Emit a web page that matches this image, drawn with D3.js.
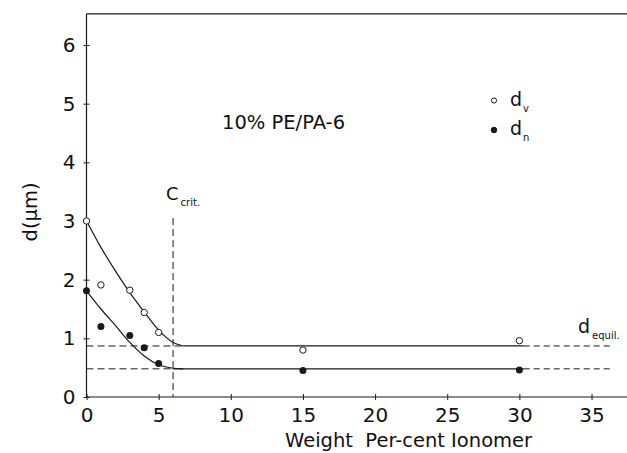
<html>
    <head>
        <script src="https://d3js.org/d3.v7.min.js"></script>
        <title>Droplet size vs ionomer</title>
        <style>
            body { margin: 0; background: #fff; }
            text { font-family: "DejaVu Sans", sans-serif; fill: #111; }
        </style>
    </head>
    <body>
        <div class="viz"></div>
        <script type="text/javascript">
            // measured points
            var wtPct = [0, 1, 3, 4, 5, 15, 30];
            var dv = [3.0, 1.91, 1.82, 1.44, 1.10, 0.80, 0.96];
            var dn = [1.81, 1.20, 1.05, 0.84, 0.57, 0.45, 0.46];

            // hand drawn fit curves
            var fitX = [0, 1, 2, 3, 4, 5, 6, 6.7];
            var fitV = [3.0, 2.55, 2.15, 1.78, 1.45, 1.14, 0.93, 0.87];
            var fitN = [1.81, 1.5, 1.22, 0.93, 0.7, 0.55, 0.49, 0.48];
            var equilV = 0.87;
            var equilN = 0.48;
            var cCrit = 6;

            var xTicks = [0, 5, 10, 15, 20, 25, 30, 35];
            var yTicks = [0, 1, 2, 3, 4, 5, 6];

            var vizWidth = 627;
            var vizHeight = 453;

            var x = d3.scaleLinear().domain([0, 37.5]).range([86.5, 627.6]);
            var y = d3.scaleLinear().domain([0, 6]).range([397, 45]);

            var svg = d3.select(".viz")
                        .append("svg")
                        .attr("width", vizWidth)
                        .attr("height", vizHeight);

            var ink = "#1a1a1a";

            // frame: top line
            svg.append("line")
                .attr("x1", x(0)).attr("x2", 627)
                .attr("y1", y(6.53)).attr("y2", y(6.53))
                .attr("stroke", ink).attr("stroke-width", 1.2);

            // axes
            var xAxis = d3.axisBottom(x).tickValues(xTicks).tickSize(0).tickPadding(11).tickFormat(d3.format("d"));
            var yAxis = d3.axisLeft(y).tickValues(yTicks).tickSize(0).tickPadding(11).tickFormat(d3.format("d"));

            var gx = svg.append("g").attr("transform", "translate(0," + y(0) + ")").call(xAxis);
            var gy = svg.append("g").attr("transform", "translate(" + x(0) + ",0)").call(yAxis);
            [gx, gy].forEach(function(g){
                g.select(".domain").attr("stroke", ink).attr("stroke-width", 1.2);
                g.selectAll("text").attr("font-size", 20).attr("fill", ink)
                    .attr("font-family", "DejaVu Sans, sans-serif");
            });
            gx.select(".domain").attr("d", "M" + x(0) + ",0H" + 627);
            gy.select(".domain").attr("d", "M0," + y(0) + "V" + y(6.53));

            // cross ticks
            gx.selectAll(".tick").append("line").attr("y1", -3).attr("y2", 3).attr("stroke", ink);
            gy.selectAll(".tick").append("line").attr("x1", -3).attr("x2", 3).attr("stroke", ink);

            // axis titles
            svg.append("text")
                .attr("transform", "translate(" + 37 + "," + 212 + ") rotate(-90)")
                .attr("text-anchor", "middle")
                .attr("font-size", 19.5)
                .text("d(\u03bcm)");

            svg.append("text")
                .attr("x", 285).attr("y", 447)
                .attr("font-size", 19.5)
                .attr("xml:space", "preserve")
                .text("Weight  Per-cent Ionomer");

            var line = d3.line()
                .x(function(d){ return x(d[0]); })
                .y(function(d){ return y(d[1]); })
                .curve(d3.curveMonotoneX);

            // fit curves
            [fitV, fitN].forEach(function(arr){
                svg.append("path")
                    .attr("d", line(fitX.map(function(v, i){ return [v, arr[i]]; })))
                    .attr("fill", "none").attr("stroke", ink).attr("stroke-width", 1.2);
            });

            // equilibrium levels
            var levels = [[equilV, fitX[fitX.length - 1]], [equilN, 6.0]];
            levels.forEach(function(l){
                svg.append("line")
                    .attr("x1", x(0)).attr("x2", x(l[1]))
                    .attr("y1", y(l[0])).attr("y2", y(l[0]))
                    .attr("stroke", ink).attr("stroke-dasharray", "7,4");
                svg.append("line")
                    .attr("x1", x(l[1])).attr("x2", x(30.3))
                    .attr("y1", y(l[0])).attr("y2", y(l[0]))
                    .attr("stroke", ink).attr("stroke-width", 1.2);
                svg.append("line")
                    .attr("x1", x(30.3)).attr("x2", x(36.3))
                    .attr("y1", y(l[0])).attr("y2", y(l[0]))
                    .attr("stroke", ink).attr("stroke-dasharray", "6,4");
            });

            // critical concentration
            svg.append("line")
                .attr("x1", x(cCrit)).attr("x2", x(cCrit))
                .attr("y1", y(3.05)).attr("y2", y(0))
                .attr("stroke", ink).attr("stroke-dasharray", "7,4");

            var cLab = svg.append("text").attr("x", 166).attr("y", 200).attr("font-size", 18);
            cLab.append("tspan").text("C");
            cLab.append("tspan").attr("font-size", 10).attr("dy", 6).attr("dx", 2).text("crit.");

            var eLab = svg.append("text").attr("x", 578).attr("y", 333).attr("font-size", 19);
            eLab.append("tspan").text("d");
            eLab.append("tspan").attr("font-size", 10).attr("dy", 6).attr("dx", 2).text("equil.");

            svg.append("text")
                .attr("x", 222).attr("y", 129)
                .attr("font-size", 19.5)
                .text("10% PE/PA-6");

            // points
            svg.selectAll("circle.dv")
                .data(wtPct).enter().append("circle")
                .attr("class", "dv")
                .attr("cx", function(d){ return x(d); })
                .attr("cy", function(d, i){ return y(dv[i]); })
                .attr("r", 3.2)
                .attr("fill", "#fff").attr("stroke", ink).attr("stroke-width", 1);

            svg.selectAll("circle.dn")
                .data(wtPct).enter().append("circle")
                .attr("class", "dn")
                .attr("cx", function(d){ return x(d); })
                .attr("cy", function(d, i){ return y(dn[i]); })
                .attr("r", 3.5)
                .attr("fill", ink);

            // legend
            var legend = [["v", false, 100.5], ["n", true, 130]];
            legend.forEach(function(l){
                svg.append("circle")
                    .attr("cx", 494).attr("cy", l[2])
                    .attr("r", l[1] ? 2.8 : 2.6)
                    .attr("fill", l[1] ? ink : "#fff")
                    .attr("stroke", ink);
                var t = svg.append("text").attr("x", 510).attr("y", l[2] + 5).attr("font-size", 19);
                t.append("tspan").text("d");
                t.append("tspan").attr("font-size", 10).attr("dy", 6).attr("dx", 1).text(l[0]);
            });
        </script>
    </body>
</html>
